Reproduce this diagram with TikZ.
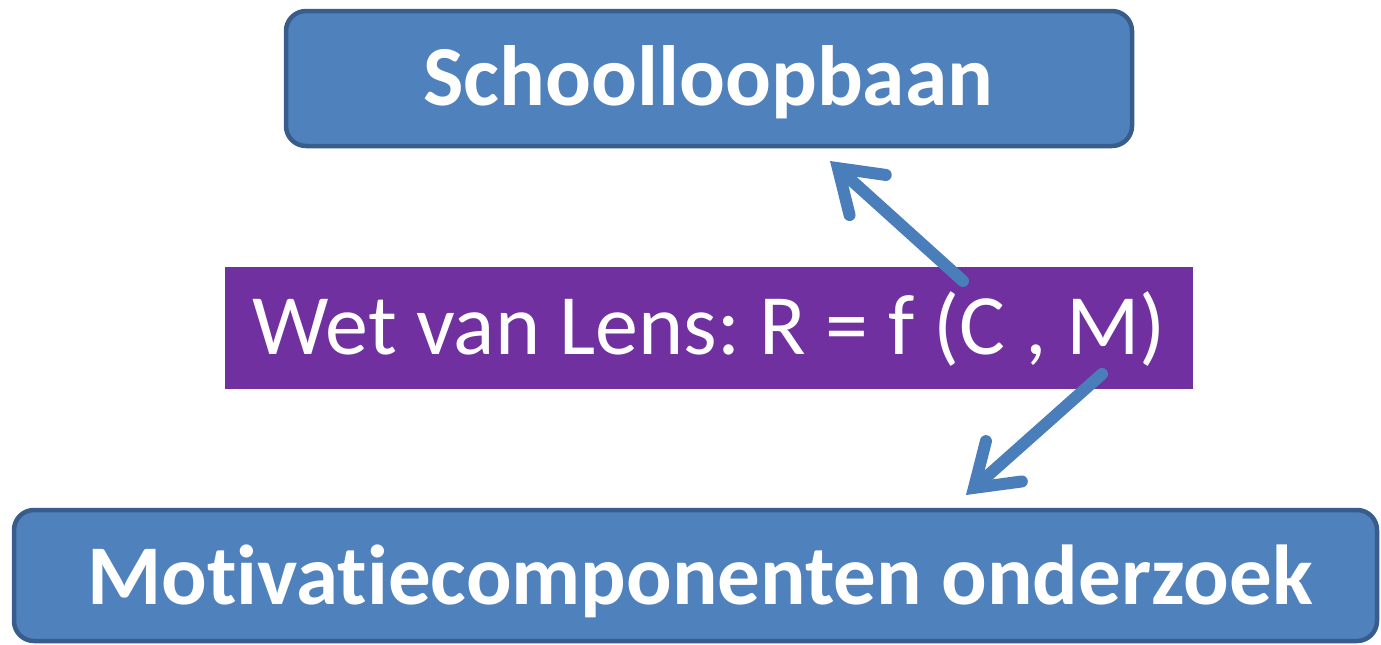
\documentclass[tikz,border=0pt]{standalone}
\usepackage{fontspec}
\setmainfont[RawFeature=-liga]{Carlito}
\usetikzlibrary{arrows.meta}
\definecolor{boxfill}{HTML}{4F81BD}
\definecolor{boxline}{HTML}{385D8A}
\definecolor{purp}{HTML}{7030A0}
\definecolor{arrowc}{HTML}{4A7EBB}
\frenchspacing
\tikzset{
  bluebox/.style={draw=boxline, fill=boxfill, line width=4.5pt, rounded corners=20pt},
  conn/.style={draw=arrowc, line width=12pt, line cap=round,
    -{Straight Barb[length=40pt, width=54pt, line cap=round]}},
}
\begin{document}
\begin{tikzpicture}[x=1pt,y=-1pt]
\useasboundingbox (0,0) rectangle (1381,645);
\fill[white] (0,0) rectangle (1381,645);
% top box
\path[bluebox] (286,11) rectangle (1132,146);
\node[text=white, font=\fontsize{85.5}{85.5}\selectfont\bfseries] (top) at (708,82) {Schoolloopbaan};
% middle box
\fill[purp] (225,267) rectangle (1193,389);
\node[text=white, font=\fontsize{86}{86}\selectfont] (mid) at (709,329) {Wet van Lens: R = f (C , M)};
% bottom box
\path[bluebox] (14,510) rectangle (1377,641);
\node[text=white, font=\fontsize{85}{85}\selectfont\bfseries] (bot) at (700,581) {Motivatiecomponenten onderzoek};
% arrows
\coordinate (a1s) at (963,281);
\coordinate (a1e) at (830,161);
\coordinate (a2s) at (1102,374);
\coordinate (a2e) at (966,495);
\draw[conn] (a1s) -- (a1e);
\draw[conn] (a2s) -- (a2e);
\end{tikzpicture}
\end{document}
